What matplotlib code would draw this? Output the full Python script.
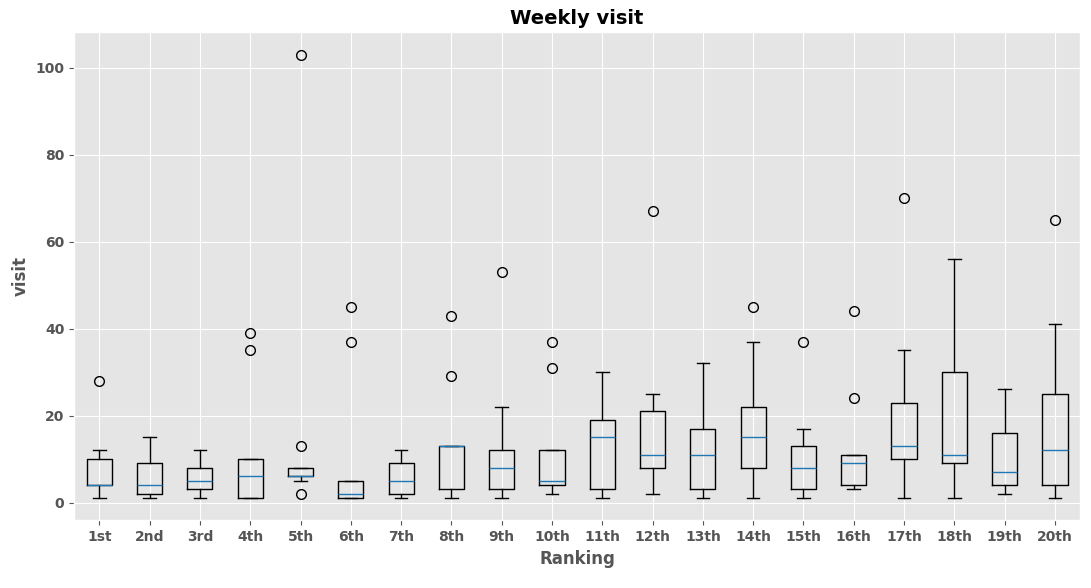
import matplotlib
matplotlib.use("Agg")
import matplotlib.pyplot as plt

plt.style.use("ggplot")

labels = ["1st","2nd","3rd","4th","5th","6th","7th","8th","9th","10th",
          "11th","12th","13th","14th","15th","16th","17th","18th","19th","20th"]
q1 =      [4, 2, 3, 1, 6, 1, 2, 3, 3, 4, 3, 8, 3, 8, 3, 4, 10, 9, 4, 4]
median =  [4, 4, 5, 6, 6, 2, 5, 13, 8, 5, 15, 11, 11, 15, 8, 9, 13, 11, 7, 12]
q3 =      [10, 9, 8, 10, 8, 5, 9, 13, 12, 12, 19, 21, 17, 22, 13, 11, 23, 30, 16, 25]
whislo =  [1, 1, 1, 1, 5, 1, 1, 1, 1, 2, 1, 2, 1, 1, 1, 3, 1, 1, 2, 1]
whishi =  [12, 15, 12, 10, 8, 5, 12, 13, 22, 12, 30, 25, 32, 37, 17, 11, 35, 56, 26, 41]
fliers = [[28], [], [], [35, 39], [2, 13, 103], [37, 45], [], [29, 43], [53], [31, 37],
          [], [67], [], [45], [37], [24, 44], [70], [], [], [65]]

stats = [dict(label=l, q1=a, med=m, q3=b, whislo=lo, whishi=hi, fliers=f)
         for l, a, m, b, lo, hi, f in zip(labels, q1, median, q3, whislo, whishi, fliers)]

fig, ax = plt.subplots(figsize=(10.91, 5.88), dpi=100)
ax.bxp(stats,
       boxprops=dict(color="black"),
       whiskerprops=dict(color="black"),
       capprops=dict(color="black"),
       medianprops=dict(color="#1f77b4"),
       flierprops=dict(marker="o", markerfacecolor="none", markeredgecolor="black", markersize=7))
ax.set_title("Weekly visit", fontweight="bold", fontsize=14)
ax.set_xlabel("Ranking", fontweight="bold", fontsize=12, color="#555555")
ax.set_ylabel("visit", fontweight="bold", fontsize=12, color="#555555")
ax.set_yticks([0, 20, 40, 60, 80, 100])
for t in ax.get_xticklabels() + ax.get_yticklabels():
    t.set_fontweight("bold")
    t.set_color("#555555")
ax.tick_params(labelsize=10)
fig.subplots_adjust(left=0.068, right=0.99, top=0.945, bottom=0.115)
fig.savefig("out.png", dpi=100)
